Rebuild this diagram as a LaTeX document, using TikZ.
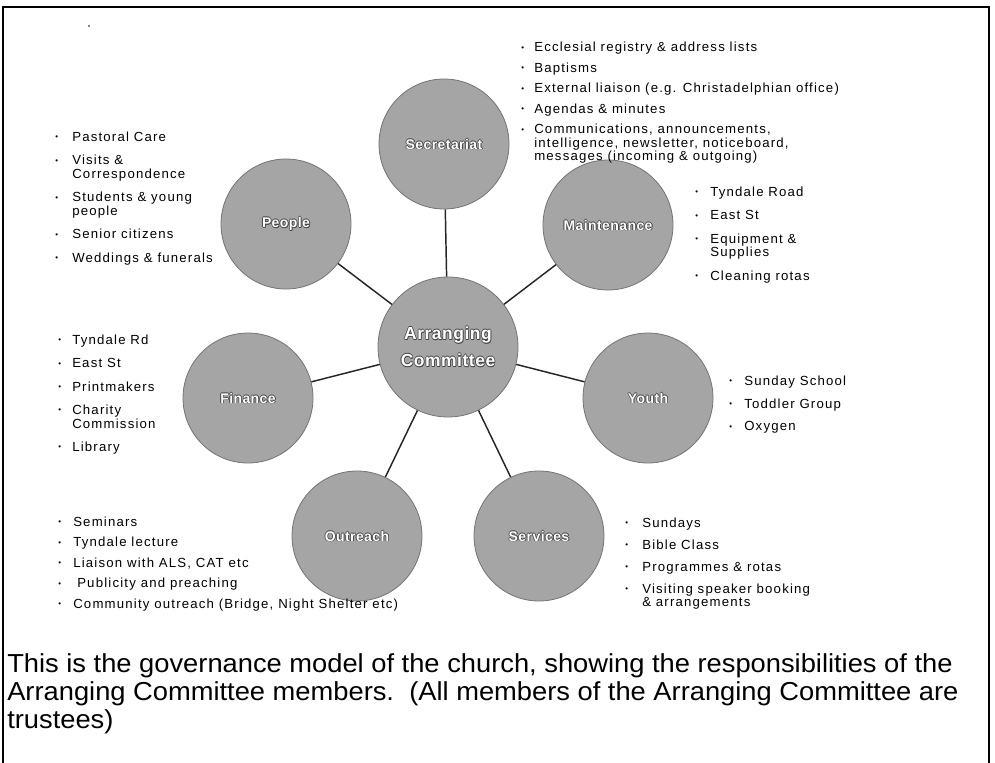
\documentclass[tikz,border=0pt]{standalone}
\usepackage{fontspec}
\usepackage{graphicx}
\setmainfont{Liberation Sans}
\newfontfamily\lf[LetterSpace=9]{Liberation Sans}
\newfontfamily\lbf[LetterSpace=3]{Liberation Sans}
\newfontfamily\cf[FakeStretch=1.05]{Liberation Sans}
\definecolor{cfill}{RGB}{165,165,165}
\definecolor{cedge}{RGB}{115,115,115}
\definecolor{dk}{RGB}{70,70,70}
\newcommand\liststy{\lf\fontsize{9.9}{9.75}\selectfont}
\newcommand\bl{\raisebox{0.12em}{\scalebox{0.6}{\char"2022}}}
\newcommand\glow[1]{\rlap{\hspace{-.6pt}\textcolor{dk}{#1}}\rlap{\hspace{.6pt}\textcolor{dk}{#1}}\rlap{\raisebox{.6pt}{\textcolor{dk}{#1}}}\rlap{\raisebox{-.6pt}{\textcolor{dk}{#1}}}\rlap{\hspace{.5pt}\raisebox{-.5pt}{\textcolor{dk}{#1}}}\textcolor{white}{#1}}
\tikzset{
  circ/.style={circle, minimum size=97.5pt, inner sep=0pt, fill=cfill, draw=cedge, line width=0.6pt,
    font=\lbf\bfseries\fontsize{10.5}{12}\selectfont},
  bigcirc/.style={circ, minimum size=105pt, align=center,
    font=\lbf\bfseries\fontsize{13.1}{20.25}\selectfont},
  lst/.style={anchor=base west, inner sep=0pt, font=\liststy},
  conn/.style={line width=1.1pt, draw=black!85},
  capt/.style={anchor=base west, inner sep=0pt, font=\cf\fontsize{19.5}{21}\selectfont},
}
\begin{document}
\begin{tikzpicture}[x=0.75pt,y=-0.75pt]
\useasboundingbox (0,0) rectangle (995,763);
% frame
\draw[line width=1.1pt] (3,763) -- (3,7) -- (989,7) -- (989,763);
\fill (89,26) circle (0.9);
% circles
\node[bigcirc] (ac)  at (448,347) {\glow{Arranging}\\\glow{Committee}};
\node[circ] (sec) at (444,144) {\glow{Secretariat}};
\node[circ] (peo) at (286,224) {\glow{People}};
\node[circ] (mai) at (608,225) {\glow{Maintenance}};
\node[circ] (fin) at (248,398) {\glow{Finance}};
\node[circ] (you) at (648,398) {\glow{Youth}};
\node[circ] (out) at (357,536) {\glow{Outreach}};
\node[circ] (ser) at (539,536) {\glow{Services}};
% connectors
\foreach \n in {sec,peo,mai,fin,you,out,ser} \draw[conn] (ac) -- (\n);
% lists
\node[lst] (lsec) at (521,52) {\begin{tabular}[t]{@{}p{9.75pt}@{}l@{}}
\bl & Ecclesial registry \& address lists\\[5.25pt]
\bl & Baptisms\\[5.25pt]
\bl & External liaison (e.g. Christadelphian office)\\[5.25pt]
\bl & Agendas \& minutes\\[5.25pt]
\bl & Communications, announcements,\\
    & intelligence, newsletter, noticeboard,\\
    & messages (incoming \& outgoing)
\end{tabular}};
\node[lst] (lpeo) at (55,141.5) {\begin{tabular}[t]{@{}p{12.75pt}@{}l@{}}
\bl & Pastoral Care\\[7.5pt]
\bl & Visits \&\\
    & Correspondence\\[7.5pt]
\bl & Students \& young\\
    & people\\[7.5pt]
\bl & Senior citizens\\[7.5pt]
\bl & Weddings \& funerals
\end{tabular}};
\node[lst] (lmai) at (695,196.5) {\begin{tabular}[t]{@{}p{11.25pt}@{}l@{}}
\bl & Tyndale Road\\[7.5pt]
\bl & East St\\[7.5pt]
\bl & Equipment \&\\
    & Supplies\\[7.5pt]
\bl & Cleaning rotas
\end{tabular}};
\node[lst] (lfin) at (58,344.5) {\begin{tabular}[t]{@{}p{10.5pt}@{}l@{}}
\bl & Tyndale Rd\\[7.5pt]
\bl & East St\\[7.5pt]
\bl & Printmakers\\[7.5pt]
\bl & Charity\\
    & Commission\\[7.5pt]
\bl & Library
\end{tabular}};
\node[lst] (lyou) at (729,385.5) {\begin{tabular}[t]{@{}p{11.25pt}@{}l@{}}
\bl & Sunday School\\[7pt]
\bl & Toddler Group\\[7pt]
\bl & Oxygen
\end{tabular}};
\node[lst] (lout) at (58,526.5) {\begin{tabular}[t]{@{}p{11.25pt}@{}l@{}}
\bl & Seminars\\[5.25pt]
\bl & Tyndale lecture\\[5.25pt]
\bl & Liaison with ALS, CAT etc\\[5.25pt]
\bl & \hspace{3pt}Publicity and preaching\\[5.25pt]
\bl & Community outreach (Bridge, Night Shelter etc)
\end{tabular}};
\node[lst] (lser) at (625,527.5) {\begin{tabular}[t]{@{}p{12.75pt}@{}l@{}}
\bl & Sundays\\[6.4pt]
\bl & Bible Class\\[6.4pt]
\bl & Programmes \& rotas\\[6.4pt]
\bl & Visiting speaker booking\\
    & \& arrangements
\end{tabular}};
% caption
\node[capt] (cap1) at (7,672) {This is the governance model of the church, showing the responsibilities of the};
\node[capt] (cap2) at (7,700) {Arranging Committee members.\ \ (All members of the Arranging Committee are};
\node[capt] (cap3) at (7,728) {trustees)};
\end{tikzpicture}
\end{document}
